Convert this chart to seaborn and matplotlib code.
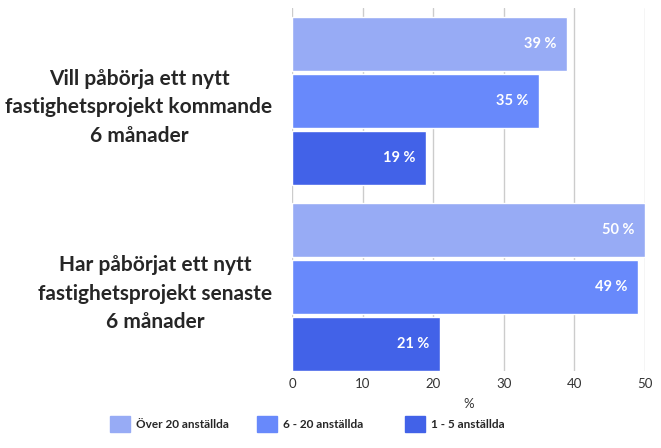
import numpy as np
import pandas as pd
import matplotlib
matplotlib.use("Agg")
import matplotlib.pyplot as plt
import matplotlib.patches as mpatches
import seaborn as sns

# data
categories = ["Vill påbörja ett nytt\nfastighetsprojekt kommande\n6 månader",
              "Har påbörjat ett nytt\nfastighetsprojekt senaste\n6 månader"]
series = ["Över 20 anställda", "6 - 20 anställda", "1 - 5 anställda"]
values_over20 = [39, 50]
values_6_20 = [35, 49]
values_1_5 = [19, 21]
colors = ["#97abf5", "#6889fb", "#4262e8"]

rows = []
for s, vals in zip(series, [values_over20, values_6_20, values_1_5]):
    for c, v in zip(categories, vals):
        rows.append({"cat": c, "serie": s, "val": v})
df = pd.DataFrame(rows)

sns.set_style("white")
plt.rcParams["font.family"] = ["Lato", "DejaVu Sans"]

fig = plt.figure(figsize=(6.61, 4.48), dpi=100)
ax = fig.add_axes([292 / 661, 1 - 371 / 448, (645 - 292) / 661, (371 - 8) / 448])

sns.barplot(data=df, y="cat", x="val", hue="serie", hue_order=series,
            palette=colors, orient="h", width=0.92, gap=0.06,
            saturation=1, ax=ax, legend=False, zorder=3)

ax.set_xlim(0, 50)
ax.set_ylim(1.45, -0.5)
ax.set_xticks([0, 10, 20, 30, 40, 50])
ax.grid(axis="x", color="#cccccc", linewidth=1, zorder=0)
ax.grid(axis="y", visible=False)
for sp in ax.spines.values():
    sp.set_visible(False)
ax.tick_params(axis="both", length=0)
ax.tick_params(axis="x", labelsize=9.5, labelcolor="#333333", pad=5)
ax.set_ylabel("")
ax.set_xlabel("%", fontsize=9.5, color="#333333", labelpad=6)
for lbl in ax.get_yticklabels():
    lbl.set_fontsize(15)
    lbl.set_fontweight("bold")
    lbl.set_multialignment("center")
    lbl.set_linespacing(1.55)
ax.tick_params(axis="y", pad=14)

for cont in ax.containers:
    for bar in cont:
        w = bar.get_width()
        ax.text(w - 1.5, bar.get_y() + bar.get_height() / 2, f"{w:.0f} %",
                ha="right", va="center", color="white", fontsize=10.5,
                fontweight="bold", zorder=4)

# legend entries placed one by one
leg_x = [99, 246, 394]
for c, s, x in zip(colors, series, leg_x):
    fig.legend(handles=[mpatches.Patch(color=c, label=s)], loc="center left",
               bbox_to_anchor=(x / 661, 1 - 424 / 448), frameon=False,
               handlelength=1.7, handleheight=1.7, handletextpad=0.5,
               prop={"size": 8.5, "weight": "bold"})

fig.savefig("out.png", dpi=100)
